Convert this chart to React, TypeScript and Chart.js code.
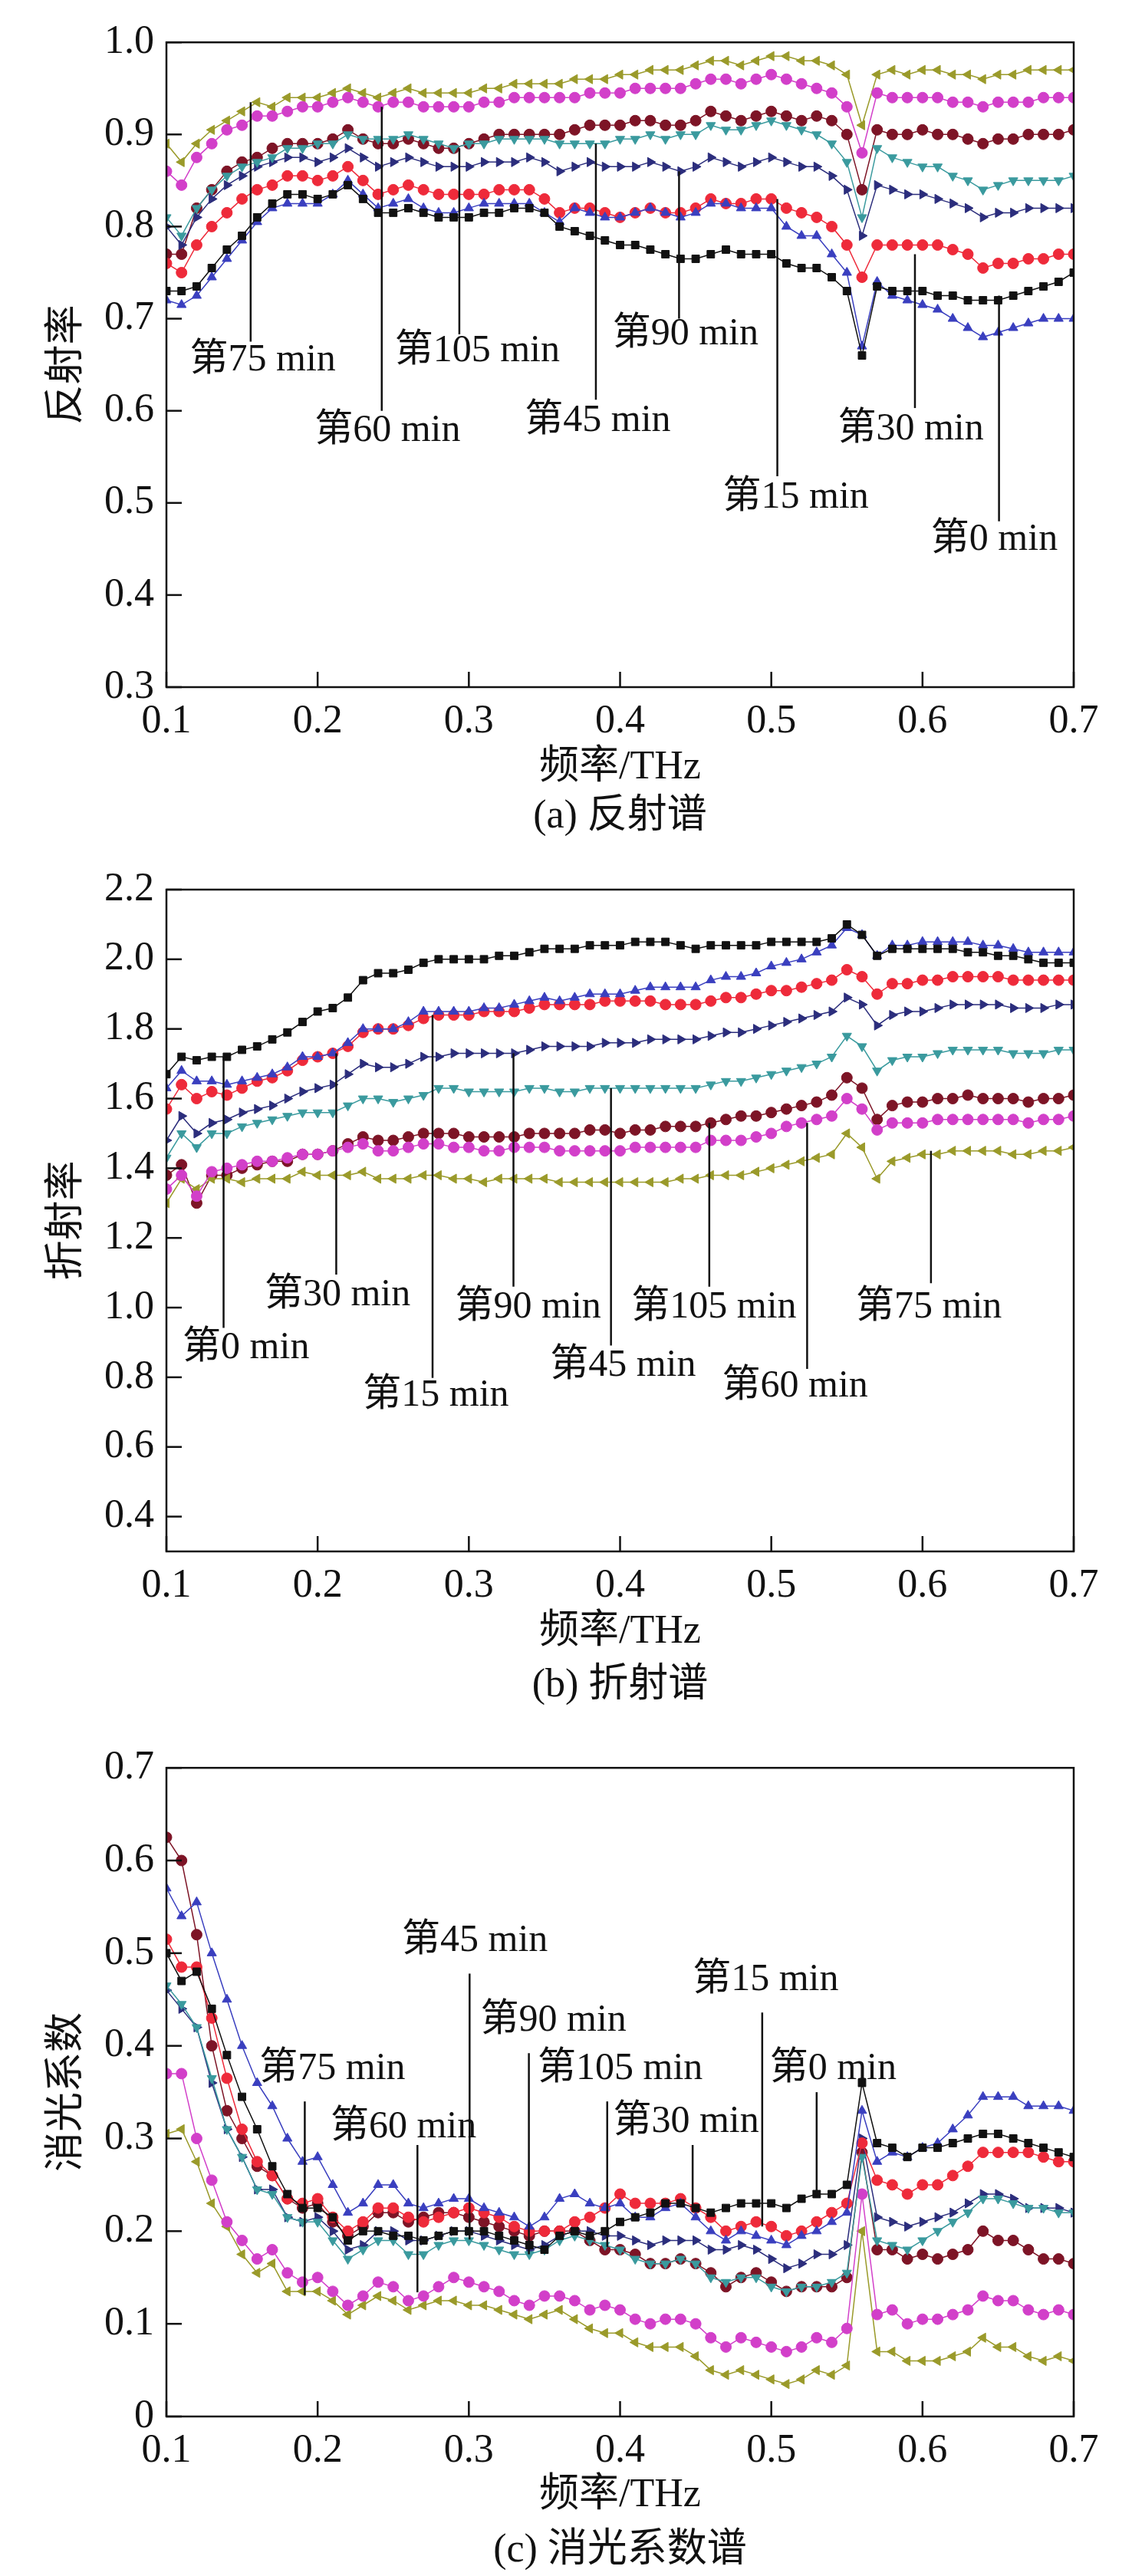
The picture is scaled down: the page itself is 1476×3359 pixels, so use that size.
import React, { useEffect, useRef } from "react";
import { Chart, registerables } from "chart.js";
Chart.register(...registerables);

const freq = [0.10,0.11,0.12,0.13,0.14,0.15,0.16,0.17,0.18,0.19,0.20,0.21,0.22,0.23,0.24,0.25,0.26,0.27,0.28,0.29,0.30,0.31,0.32,0.33,0.34,0.35,0.36,0.37,0.38,0.39,0.40,0.41,0.42,0.43,0.44,0.45,0.46,0.47,0.48,0.49,0.50,0.51,0.52,0.53,0.54,0.55,0.56,0.57,0.58,0.59,0.60,0.61,0.62,0.63,0.64,0.65,0.66,0.67,0.68,0.69,0.70];

// order: 0,15,30,45,60,75,90,105 min
const seriesNames = ["第0 min","第15 min","第30 min","第45 min","第60 min","第75 min","第90 min","第105 min"];
const seriesColors = ["#111111","#3a3fbf","#ee2a3a","#3a9a9e","#d23fc9","#9a9a2a","#2b2d7c","#7d1426"];
const seriesMarkers = ["rect","triangle","circle","triangle","circle","triangle","triangle","circle"];
const seriesRotation = [0,0,0,180,0,270,90,0];

// (a) reflectance
const refl0 = [0.73,0.73,0.735,0.755,0.775,0.79,0.81,0.825,0.835,0.835,0.83,0.835,0.845,0.83,0.815,0.815,0.82,0.815,0.81,0.81,0.81,0.815,0.815,0.82,0.82,0.815,0.8,0.795,0.79,0.785,0.78,0.78,0.775,0.77,0.765,0.765,0.77,0.775,0.77,0.77,0.77,0.76,0.755,0.755,0.745,0.73,0.66,0.735,0.73,0.73,0.73,0.725,0.725,0.72,0.72,0.72,0.725,0.73,0.735,0.74,0.75];
const refl15 = [0.72,0.715,0.725,0.745,0.765,0.785,0.805,0.82,0.825,0.825,0.825,0.835,0.85,0.835,0.82,0.825,0.83,0.82,0.815,0.815,0.82,0.825,0.825,0.825,0.825,0.815,0.805,0.82,0.815,0.81,0.81,0.815,0.82,0.815,0.81,0.815,0.825,0.825,0.82,0.82,0.82,0.8,0.79,0.79,0.77,0.75,0.67,0.74,0.725,0.72,0.715,0.71,0.7,0.69,0.68,0.685,0.69,0.695,0.7,0.7,0.7];
const refl30 = [0.76,0.75,0.78,0.8,0.815,0.83,0.84,0.845,0.855,0.855,0.85,0.855,0.865,0.85,0.835,0.84,0.845,0.84,0.835,0.835,0.835,0.835,0.84,0.84,0.84,0.83,0.815,0.82,0.82,0.815,0.81,0.815,0.82,0.815,0.815,0.82,0.83,0.825,0.825,0.83,0.83,0.82,0.815,0.81,0.8,0.78,0.745,0.78,0.78,0.78,0.78,0.78,0.775,0.77,0.755,0.76,0.76,0.765,0.765,0.77,0.77];
const refl45 = [0.81,0.79,0.82,0.84,0.855,0.865,0.87,0.875,0.885,0.885,0.89,0.89,0.9,0.895,0.895,0.895,0.9,0.895,0.89,0.885,0.89,0.89,0.895,0.895,0.895,0.895,0.89,0.89,0.89,0.89,0.895,0.895,0.9,0.895,0.9,0.9,0.91,0.905,0.905,0.91,0.915,0.91,0.905,0.9,0.89,0.87,0.81,0.885,0.875,0.87,0.865,0.865,0.855,0.85,0.84,0.845,0.85,0.85,0.85,0.85,0.855];
const refl60 = [0.86,0.845,0.875,0.89,0.905,0.91,0.92,0.92,0.925,0.93,0.93,0.935,0.94,0.935,0.93,0.935,0.935,0.93,0.93,0.93,0.93,0.935,0.935,0.94,0.94,0.94,0.94,0.94,0.945,0.945,0.945,0.95,0.95,0.95,0.95,0.955,0.96,0.96,0.955,0.96,0.965,0.96,0.955,0.95,0.945,0.93,0.88,0.945,0.94,0.94,0.94,0.94,0.935,0.935,0.93,0.935,0.935,0.935,0.94,0.94,0.94];
const refl75 = [0.89,0.87,0.89,0.905,0.915,0.925,0.935,0.93,0.94,0.94,0.94,0.945,0.95,0.945,0.94,0.945,0.95,0.945,0.945,0.945,0.945,0.95,0.95,0.955,0.955,0.955,0.955,0.96,0.96,0.96,0.965,0.965,0.97,0.97,0.97,0.975,0.98,0.98,0.975,0.98,0.985,0.985,0.98,0.98,0.975,0.965,0.91,0.965,0.97,0.965,0.97,0.97,0.965,0.965,0.96,0.965,0.965,0.97,0.97,0.97,0.97];
const refl90 = [0.8,0.78,0.81,0.83,0.845,0.855,0.865,0.87,0.875,0.875,0.87,0.875,0.885,0.875,0.865,0.87,0.875,0.87,0.865,0.865,0.865,0.87,0.87,0.87,0.875,0.87,0.86,0.865,0.87,0.865,0.865,0.865,0.87,0.865,0.86,0.865,0.875,0.87,0.865,0.87,0.875,0.87,0.865,0.865,0.855,0.84,0.79,0.845,0.84,0.835,0.835,0.83,0.825,0.82,0.81,0.815,0.815,0.82,0.82,0.82,0.82];
const refl105 = [0.77,0.77,0.82,0.84,0.86,0.87,0.875,0.885,0.89,0.89,0.89,0.895,0.905,0.895,0.89,0.89,0.895,0.89,0.885,0.885,0.89,0.895,0.9,0.9,0.9,0.9,0.9,0.905,0.91,0.91,0.91,0.915,0.915,0.91,0.91,0.915,0.925,0.92,0.915,0.92,0.925,0.92,0.915,0.92,0.915,0.9,0.84,0.905,0.9,0.9,0.905,0.9,0.9,0.895,0.89,0.895,0.895,0.9,0.9,0.9,0.905];

// (b) refractive index
const refr0 = [1.67,1.72,1.71,1.72,1.72,1.74,1.75,1.77,1.79,1.82,1.85,1.86,1.89,1.94,1.96,1.96,1.97,1.99,2.0,2.0,2.0,2.0,2.01,2.01,2.02,2.03,2.03,2.03,2.04,2.04,2.04,2.05,2.05,2.05,2.04,2.03,2.04,2.04,2.04,2.04,2.05,2.05,2.05,2.05,2.06,2.1,2.07,2.01,2.03,2.03,2.03,2.03,2.03,2.02,2.02,2.01,2.01,2.0,1.99,1.99,1.99];
const refr15 = [1.63,1.68,1.65,1.65,1.64,1.65,1.66,1.67,1.69,1.72,1.72,1.73,1.76,1.8,1.8,1.8,1.82,1.85,1.85,1.85,1.85,1.86,1.86,1.87,1.88,1.89,1.88,1.89,1.9,1.9,1.9,1.91,1.92,1.92,1.92,1.92,1.94,1.95,1.95,1.96,1.98,1.99,2.0,2.02,2.04,2.09,2.07,2.01,2.04,2.04,2.05,2.05,2.05,2.05,2.04,2.04,2.03,2.02,2.02,2.02,2.02];
const refr30 = [1.57,1.64,1.6,1.62,1.61,1.63,1.65,1.66,1.68,1.71,1.72,1.73,1.75,1.79,1.8,1.8,1.81,1.83,1.84,1.84,1.84,1.85,1.85,1.85,1.86,1.87,1.87,1.87,1.87,1.88,1.88,1.88,1.88,1.87,1.87,1.87,1.88,1.89,1.89,1.9,1.91,1.91,1.92,1.93,1.94,1.97,1.95,1.9,1.93,1.93,1.94,1.94,1.95,1.95,1.95,1.95,1.94,1.94,1.94,1.94,1.94];
const refr45 = [1.43,1.5,1.46,1.5,1.5,1.52,1.53,1.54,1.55,1.56,1.56,1.56,1.58,1.6,1.6,1.59,1.6,1.61,1.63,1.63,1.62,1.62,1.62,1.62,1.63,1.63,1.62,1.62,1.63,1.63,1.63,1.63,1.63,1.63,1.63,1.63,1.64,1.65,1.65,1.66,1.67,1.68,1.69,1.7,1.72,1.78,1.75,1.68,1.71,1.72,1.72,1.73,1.74,1.74,1.74,1.74,1.73,1.73,1.73,1.74,1.74];
const refr60 = [1.34,1.38,1.32,1.39,1.4,1.41,1.42,1.42,1.43,1.44,1.44,1.45,1.46,1.47,1.45,1.45,1.46,1.47,1.47,1.46,1.46,1.45,1.45,1.46,1.46,1.46,1.45,1.45,1.45,1.45,1.45,1.46,1.46,1.46,1.46,1.46,1.48,1.48,1.48,1.49,1.5,1.52,1.53,1.54,1.55,1.6,1.57,1.51,1.53,1.53,1.53,1.54,1.54,1.54,1.54,1.54,1.54,1.53,1.54,1.54,1.55];
const refr75 = [1.3,1.37,1.34,1.37,1.37,1.36,1.37,1.37,1.37,1.39,1.38,1.38,1.38,1.39,1.37,1.37,1.37,1.38,1.38,1.37,1.37,1.36,1.37,1.37,1.37,1.37,1.36,1.36,1.36,1.36,1.36,1.36,1.36,1.36,1.37,1.37,1.38,1.38,1.38,1.39,1.4,1.41,1.42,1.43,1.44,1.5,1.46,1.37,1.42,1.43,1.44,1.44,1.45,1.45,1.45,1.45,1.44,1.44,1.45,1.45,1.46];
const refr90 = [1.48,1.55,1.5,1.53,1.54,1.56,1.57,1.58,1.6,1.62,1.63,1.64,1.67,1.7,1.69,1.69,1.7,1.72,1.72,1.73,1.73,1.73,1.73,1.73,1.74,1.75,1.75,1.75,1.75,1.76,1.76,1.76,1.77,1.77,1.77,1.77,1.78,1.79,1.79,1.8,1.81,1.82,1.83,1.84,1.85,1.89,1.87,1.81,1.84,1.85,1.85,1.86,1.87,1.87,1.87,1.87,1.86,1.86,1.86,1.87,1.87];
const refr105 = [1.38,1.41,1.3,1.38,1.38,1.4,1.41,1.42,1.42,1.44,1.44,1.45,1.47,1.49,1.48,1.48,1.49,1.5,1.5,1.5,1.49,1.49,1.49,1.49,1.5,1.5,1.5,1.5,1.51,1.51,1.5,1.51,1.51,1.52,1.52,1.52,1.53,1.54,1.55,1.55,1.56,1.57,1.58,1.59,1.61,1.66,1.63,1.54,1.58,1.59,1.59,1.6,1.6,1.61,1.6,1.6,1.6,1.59,1.6,1.6,1.61];

// (c) extinction coefficient
const ext0 = [0.5,0.47,0.48,0.44,0.39,0.345,0.31,0.27,0.24,0.225,0.225,0.215,0.19,0.2,0.2,0.195,0.195,0.19,0.195,0.2,0.2,0.2,0.195,0.19,0.185,0.18,0.195,0.2,0.195,0.2,0.21,0.215,0.22,0.23,0.23,0.225,0.22,0.225,0.23,0.23,0.23,0.225,0.235,0.24,0.24,0.25,0.36,0.295,0.29,0.28,0.29,0.29,0.295,0.3,0.305,0.305,0.3,0.295,0.29,0.285,0.28];
const ext15 = [0.57,0.54,0.555,0.5,0.45,0.4,0.36,0.335,0.3,0.275,0.28,0.25,0.22,0.23,0.25,0.25,0.23,0.225,0.23,0.235,0.235,0.225,0.22,0.215,0.205,0.215,0.235,0.24,0.23,0.225,0.23,0.215,0.215,0.225,0.23,0.215,0.2,0.19,0.2,0.195,0.19,0.185,0.195,0.2,0.21,0.22,0.33,0.275,0.285,0.28,0.29,0.295,0.31,0.325,0.345,0.345,0.345,0.335,0.335,0.335,0.33];
const ext30 = [0.515,0.485,0.485,0.43,0.365,0.31,0.275,0.26,0.235,0.23,0.235,0.215,0.2,0.21,0.225,0.225,0.215,0.21,0.215,0.22,0.225,0.22,0.215,0.205,0.2,0.2,0.2,0.21,0.215,0.225,0.24,0.23,0.23,0.23,0.235,0.225,0.215,0.2,0.205,0.21,0.205,0.195,0.2,0.21,0.22,0.23,0.295,0.255,0.25,0.24,0.25,0.25,0.26,0.27,0.285,0.285,0.285,0.285,0.28,0.275,0.275];
const ext45 = [0.465,0.445,0.42,0.365,0.31,0.28,0.245,0.24,0.215,0.21,0.21,0.19,0.17,0.18,0.19,0.19,0.175,0.175,0.185,0.19,0.19,0.185,0.18,0.175,0.175,0.18,0.19,0.195,0.19,0.185,0.18,0.17,0.165,0.165,0.17,0.165,0.15,0.145,0.15,0.15,0.14,0.135,0.14,0.14,0.145,0.155,0.28,0.19,0.185,0.18,0.19,0.2,0.21,0.22,0.235,0.235,0.23,0.225,0.225,0.22,0.22];
const ext60 = [0.37,0.37,0.3,0.255,0.21,0.19,0.17,0.18,0.155,0.145,0.15,0.135,0.12,0.13,0.145,0.14,0.125,0.13,0.14,0.15,0.145,0.14,0.135,0.125,0.12,0.13,0.13,0.125,0.115,0.12,0.115,0.105,0.1,0.105,0.105,0.1,0.085,0.075,0.085,0.08,0.075,0.07,0.075,0.085,0.08,0.095,0.24,0.11,0.115,0.1,0.105,0.105,0.11,0.115,0.13,0.125,0.125,0.115,0.11,0.115,0.11];
const ext75 = [0.305,0.31,0.275,0.23,0.205,0.175,0.155,0.165,0.135,0.135,0.135,0.125,0.11,0.12,0.13,0.125,0.115,0.12,0.125,0.125,0.12,0.12,0.115,0.11,0.105,0.11,0.115,0.105,0.095,0.09,0.09,0.08,0.075,0.075,0.075,0.065,0.05,0.045,0.05,0.045,0.04,0.035,0.04,0.05,0.045,0.055,0.2,0.07,0.07,0.06,0.06,0.06,0.065,0.07,0.085,0.075,0.075,0.065,0.06,0.065,0.06];
const ext90 = [0.46,0.44,0.42,0.36,0.31,0.28,0.245,0.245,0.215,0.21,0.215,0.2,0.18,0.185,0.2,0.2,0.19,0.19,0.195,0.2,0.2,0.195,0.19,0.185,0.18,0.185,0.195,0.2,0.2,0.195,0.195,0.19,0.185,0.19,0.19,0.19,0.18,0.18,0.185,0.18,0.17,0.16,0.165,0.175,0.175,0.185,0.3,0.215,0.21,0.205,0.21,0.215,0.22,0.23,0.24,0.24,0.235,0.225,0.225,0.225,0.22];
const ext105 = [0.625,0.6,0.52,0.4,0.33,0.3,0.27,0.26,0.235,0.225,0.23,0.21,0.195,0.205,0.22,0.22,0.21,0.215,0.22,0.22,0.215,0.21,0.205,0.2,0.195,0.2,0.2,0.2,0.19,0.18,0.18,0.175,0.165,0.165,0.17,0.165,0.155,0.14,0.15,0.155,0.145,0.135,0.14,0.14,0.14,0.15,0.285,0.18,0.18,0.17,0.175,0.17,0.175,0.18,0.2,0.19,0.19,0.18,0.17,0.17,0.165];

// annotations: [text, textX, textY, lineX, lineY1, lineY2]
const annA: [string, number, number, number, number, number][] = [
  ["第75 min",0.1155,0.655,0.1557,0.935,0.675],
  ["第60 min",0.198,0.578,0.2424,0.93,0.60],
  ["第105 min",0.251,0.665,0.2937,0.885,0.683],
  ["第45 min",0.337,0.589,0.384,0.89,0.612],
  ["第90 min",0.395,0.683,0.439,0.86,0.70],
  ["第15 min",0.468,0.506,0.504,0.83,0.529],
  ["第30 min",0.544,0.58,0.595,0.77,0.603],
  ["第0 min",0.6056,0.46,0.6506,0.725,0.48],
];
const annB: [string, number, number, number, number, number][] = [
  ["第0 min",0.1107,0.883,0.1378,1.72,0.942],
  ["第30 min",0.1649,1.036,0.2123,1.73,1.095],
  ["第15 min",0.230,0.747,0.276,1.84,0.798],
  ["第90 min",0.291,1.0,0.3295,1.73,1.06],
  ["第45 min",0.3537,0.832,0.394,1.63,0.891],
  ["第105 min",0.4075,1.0,0.459,1.53,1.06],
  ["第60 min",0.4675,0.773,0.5237,1.53,0.824],
  ["第75 min",0.556,1.0,0.6056,1.45,1.07],
];
const annC: [string, number, number, number, number, number][] = [
  ["第75 min",0.1615,0.375,0.1915,0.34,0.131],
  ["第60 min",0.2085,0.312,0.266,0.293,0.134],
  ["第45 min",0.2557,0.513,0.3005,0.478,0.191],
  ["第90 min",0.3077,0.427,0.3397,0.392,0.175],
  ["第105 min",0.3455,0.375,0.3915,0.34,0.183],
  ["第30 min",0.3954,0.318,0.448,0.293,0.227],
  ["第15 min",0.448,0.471,0.494,0.436,0.205],
  ["第0 min",0.499,0.375,0.53,0.35,0.238],
];

const xTicks = [0.1,0.2,0.3,0.4,0.5,0.6,0.7];
const yTicksA = [0.3,0.4,0.5,0.6,0.7,0.8,0.9,1.0];
const yTicksB = [0.4,0.6,0.8,1.0,1.2,1.4,1.6,1.8,2.0,2.2];
const yTicksC = [0,0.1,0.2,0.3,0.4,0.5,0.6,0.7];

const SERIF = "'Liberation Serif', 'Times New Roman', 'Noto Sans CJK SC', serif";

type Cfg = {
  height: number; top: number; bottom: number; yMin: number; yMax: number;
  yTicks: number[]; yTitle: string; caption: string; titleY: number; captionY: number;
  series: number[][]; ann: [string, number, number, number, number, number][];
  fmt: (v: number) => string;
};

function Panel({ cfg }: { cfg: Cfg }) {
  const ref = useRef<HTMLCanvasElement>(null);
  useEffect(() => {
    const canvas = ref.current!;
    const deco = {
      id: "deco",
      afterDatasetsDraw(chart: any) {
        const ctx = chart.ctx;
        const a = chart.chartArea;
        const xs = chart.scales.x, ys = chart.scales.y;
        ctx.save();
        ctx.strokeStyle = "#111";
        ctx.lineWidth = 2.5;
        ctx.strokeRect(a.left, a.top, a.right - a.left, a.bottom - a.top);
        ctx.lineWidth = 2.5;
        xTicks.forEach((v) => {
          const px = xs.getPixelForValue(v);
          ctx.beginPath(); ctx.moveTo(px, a.bottom); ctx.lineTo(px, a.bottom - 20); ctx.stroke();
        });
        cfg.yTicks.forEach((v) => {
          const py = ys.getPixelForValue(v);
          ctx.beginPath(); ctx.moveTo(a.left, py); ctx.lineTo(a.left + 20, py); ctx.stroke();
        });
        // annotations
        ctx.fillStyle = "#111";
        ctx.font = `50px ${SERIF}`;
        ctx.textBaseline = "middle";
        ctx.textAlign = "left";
        cfg.ann.forEach(([t, tx, ty, lx, y1, y2]) => {
          const px = xs.getPixelForValue(lx);
          ctx.lineWidth = 2.5;
          ctx.beginPath(); ctx.moveTo(px, ys.getPixelForValue(y1)); ctx.lineTo(px, ys.getPixelForValue(y2)); ctx.stroke();
          ctx.fillText(t, xs.getPixelForValue(tx), ys.getPixelForValue(ty));
        });
        // titles
        ctx.textAlign = "center";
        ctx.font = `52px ${SERIF}`;
        ctx.fillText("频率/THz", (a.left + a.right) / 2, cfg.titleY);
        ctx.fillText(cfg.caption, (a.left + a.right) / 2, cfg.captionY);
        ctx.save();
        ctx.translate(80, (a.top + a.bottom) / 2);
        ctx.rotate(-Math.PI / 2);
        ctx.fillText(cfg.yTitle, 0, 0);
        ctx.restore();
        ctx.restore();
      },
    };
    const chart = new Chart(canvas, {
      type: "line",
      data: {
        datasets: cfg.series.map((s, i) => ({
          label: seriesNames[i],
          data: freq.map((f, j) => ({ x: f, y: s[j] })),
          borderColor: seriesColors[i],
          backgroundColor: seriesColors[i],
          borderWidth: 1.5,
          pointStyle: seriesMarkers[i] as any,
          pointRotation: seriesRotation[i],
          pointRadius: 7,
          pointBorderWidth: 1,
          tension: 0,
        })),
      },
      options: {
        animation: false,
        responsive: false,
        maintainAspectRatio: false,
        layout: { padding: { top: cfg.top, right: 68, left: 0, bottom: 0 } },
        plugins: { legend: { display: false }, tooltip: { enabled: false } },
        scales: {
          x: {
            type: "linear", min: 0.1, max: 0.7,
            grid: { display: false, drawTicks: false }, border: { display: false },
            afterBuildTicks: (s: any) => { s.ticks = xTicks.map((v) => ({ value: v })); },
            afterFit: (s: any) => { s.height = cfg.height - cfg.bottom; },
            ticks: { font: { family: SERIF, size: 52 }, color: "#111", padding: 14, maxRotation: 0, callback: (v: any) => Number(v).toFixed(1) },
          },
          y: {
            min: cfg.yMin, max: cfg.yMax,
            grid: { display: false, drawTicks: false }, border: { display: false },
            afterBuildTicks: (s: any) => { s.ticks = cfg.yTicks.map((v) => ({ value: v })); },
            afterFit: (s: any) => { s.width = 209; },
            ticks: { font: { family: SERIF, size: 52 }, color: "#111", padding: 16, callback: (v: any) => cfg.fmt(Number(v)) },
          },
        },
      },
      plugins: [deco],
    });
    return () => chart.destroy();
  }, []);
  return <canvas ref={ref} width={1460} height={cfg.height} style={{ display: "block", width: 1460, height: cfg.height }} />;
}

const cfgA: Cfg = {
  height: 1100, top: 25, bottom: 888, yMin: 0.3, yMax: 1.0, yTicks: yTicksA,
  yTitle: "反射率", caption: "(a) 反射谱", titleY: 993, captionY: 1057,
  series: [refl0, refl15, refl30, refl45, refl60, refl75, refl90, refl105], ann: annA,
  fmt: (v) => v.toFixed(1),
};
const cfgB: Cfg = {
  height: 1150, top: 52, bottom: 915, yMin: 0.3, yMax: 2.2, yTicks: yTicksB,
  yTitle: "折射率", caption: "(b) 折射谱", titleY: 1020, captionY: 1090,
  series: [refr0, refr15, refr30, refr45, refr60, refr75, refr90, refr105], ann: annB,
  fmt: (v) => v.toFixed(1),
};
const cfgC: Cfg = {
  height: 1100, top: 38, bottom: 893, yMin: 0, yMax: 0.7, yTicks: yTicksC,
  yTitle: "消光系数", caption: "(c) 消光系数谱", titleY: 996, captionY: 1068,
  series: [ext0, ext15, ext30, ext45, ext60, ext75, ext90, ext105], ann: annC,
  fmt: (v) => (v === 0 ? "0" : v.toFixed(1)),
};

export default function App() {
  return (
    <div style={{ background: "#fff" }}>
      <Panel cfg={cfgA} />
      <Panel cfg={cfgB} />
      <Panel cfg={cfgC} />
    </div>
  );
}
